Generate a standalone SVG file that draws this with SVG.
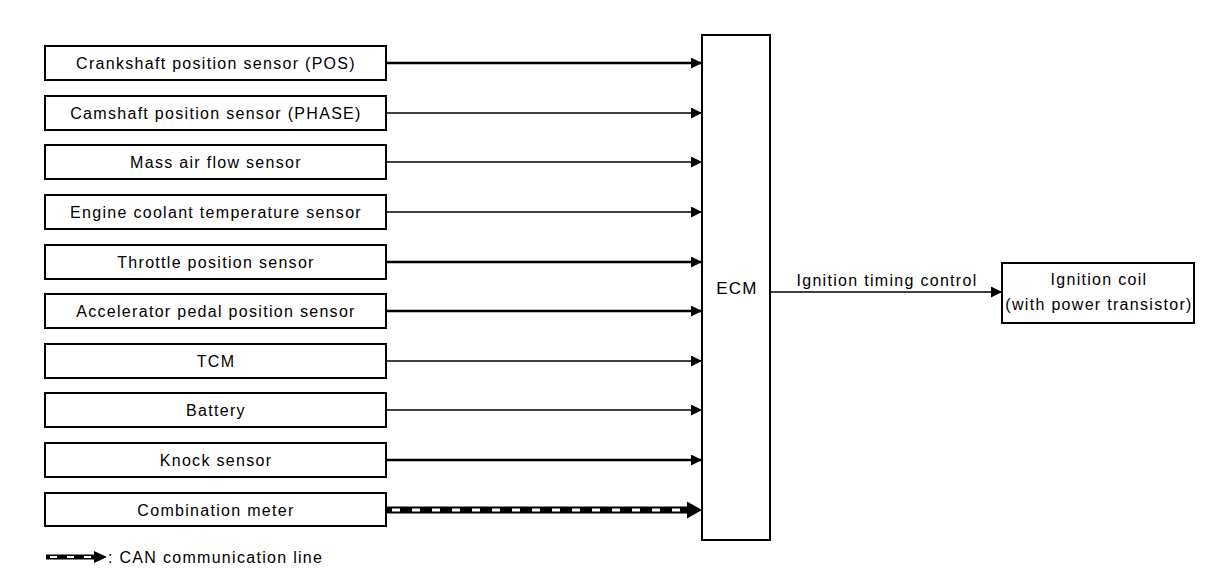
<svg xmlns="http://www.w3.org/2000/svg" width="1216" height="582" viewBox="0 0 1216 582">
<style>
.box{fill:#fff;stroke:#000;stroke-width:2}
.t{font-family:"Liberation Sans",Arial,sans-serif;font-size:16px;fill:#000;text-anchor:middle;letter-spacing:1.3px}
.thin{stroke:#000;stroke-width:1.3;fill:none}
.thick{stroke:#000;stroke-width:2.6;fill:none}
</style>
<defs>
<marker id="ah" markerUnits="userSpaceOnUse" markerWidth="11" markerHeight="11" refX="11" refY="5.5" orient="auto">
<path d="M0,0 L11,5.5 L0,11 z" fill="#000"/>
</marker>
</defs>
<rect width="1216" height="582" fill="#fff"/>

<g id="connectors">
<line class="thick" x1="386" y1="63" x2="702" y2="63" marker-end="url(#ah)"/>
<line class="thin" x1="386" y1="113" x2="702" y2="113" marker-end="url(#ah)"/>
<line class="thin" x1="386" y1="162" x2="702" y2="162" marker-end="url(#ah)"/>
<line class="thin" x1="386" y1="212" x2="702" y2="212" marker-end="url(#ah)"/>
<line class="thick" x1="386" y1="262" x2="702" y2="262" marker-end="url(#ah)"/>
<line class="thick" x1="386" y1="311" x2="702" y2="311" marker-end="url(#ah)"/>
<line class="thin" x1="386" y1="361" x2="702" y2="361" marker-end="url(#ah)"/>
<line class="thin" x1="386" y1="410" x2="702" y2="410" marker-end="url(#ah)"/>
<line class="thick" x1="386" y1="460" x2="702" y2="460" marker-end="url(#ah)"/>
<g id="can-line">
<line x1="386" y1="510" x2="689" y2="510" stroke="#000" stroke-width="7"/>
<line x1="392" y1="510" x2="686" y2="510" stroke="#fff" stroke-width="3" stroke-dasharray="8 12"/>
<path d="M687,501.5 L702,510 L687,518.5 z" fill="#000"/>
</g>
<line class="thin" x1="770" y1="292" x2="1002" y2="292" marker-end="url(#ah)"/>
<text class="t" x="887" y="286">Ignition timing control</text>
</g>

<g id="n-crank"><rect class="box" x="45" y="46" width="341" height="34"/><text class="t" x="216" y="69">Crankshaft position sensor (POS)</text></g>
<g id="n-cam"><rect class="box" x="45" y="96" width="341" height="34"/><text class="t" x="216" y="119">Camshaft position sensor (PHASE)</text></g>
<g id="n-maf"><rect class="box" x="45" y="145" width="341" height="34"/><text class="t" x="216" y="168">Mass air flow sensor</text></g>
<g id="n-ect"><rect class="box" x="45" y="195" width="341" height="34"/><text class="t" x="216" y="218">Engine coolant temperature sensor</text></g>
<g id="n-tps"><rect class="box" x="45" y="245" width="341" height="34"/><text class="t" x="216" y="268">Throttle position sensor</text></g>
<g id="n-apps"><rect class="box" x="45" y="294" width="341" height="34"/><text class="t" x="216" y="317">Accelerator pedal position sensor</text></g>
<g id="n-tcm"><rect class="box" x="45" y="344" width="341" height="34"/><text class="t" x="216" y="367">TCM</text></g>
<g id="n-battery"><rect class="box" x="45" y="393" width="341" height="34"/><text class="t" x="216" y="416">Battery</text></g>
<g id="n-knock"><rect class="box" x="45" y="443" width="341" height="34"/><text class="t" x="216" y="466">Knock sensor</text></g>
<g id="n-combo"><rect class="box" x="45" y="493" width="341" height="33"/><text class="t" x="216" y="516">Combination meter</text></g>

<g id="n-ecm"><rect class="box" x="702" y="35" width="68" height="505"/><text class="t" x="737" y="294" style="font-size:17px">ECM</text></g>

<g id="n-coil"><rect class="box" x="1002" y="263" width="192" height="60"/>
<text class="t" x="1099" y="285">Ignition coil</text>
<text class="t" x="1099" y="310">(with power transistor)</text></g>

<g id="legend">
<line x1="46" y1="557" x2="96" y2="557" stroke="#000" stroke-width="5"/>
<line x1="50" y1="557" x2="94" y2="557" stroke="#fff" stroke-width="2" stroke-dasharray="7 10"/>
<path d="M94,551 L107,557 L94,563 z" fill="#000"/>
<text class="t" x="108" y="563" style="text-anchor:start">: CAN communication line</text>
</g>
</svg>
